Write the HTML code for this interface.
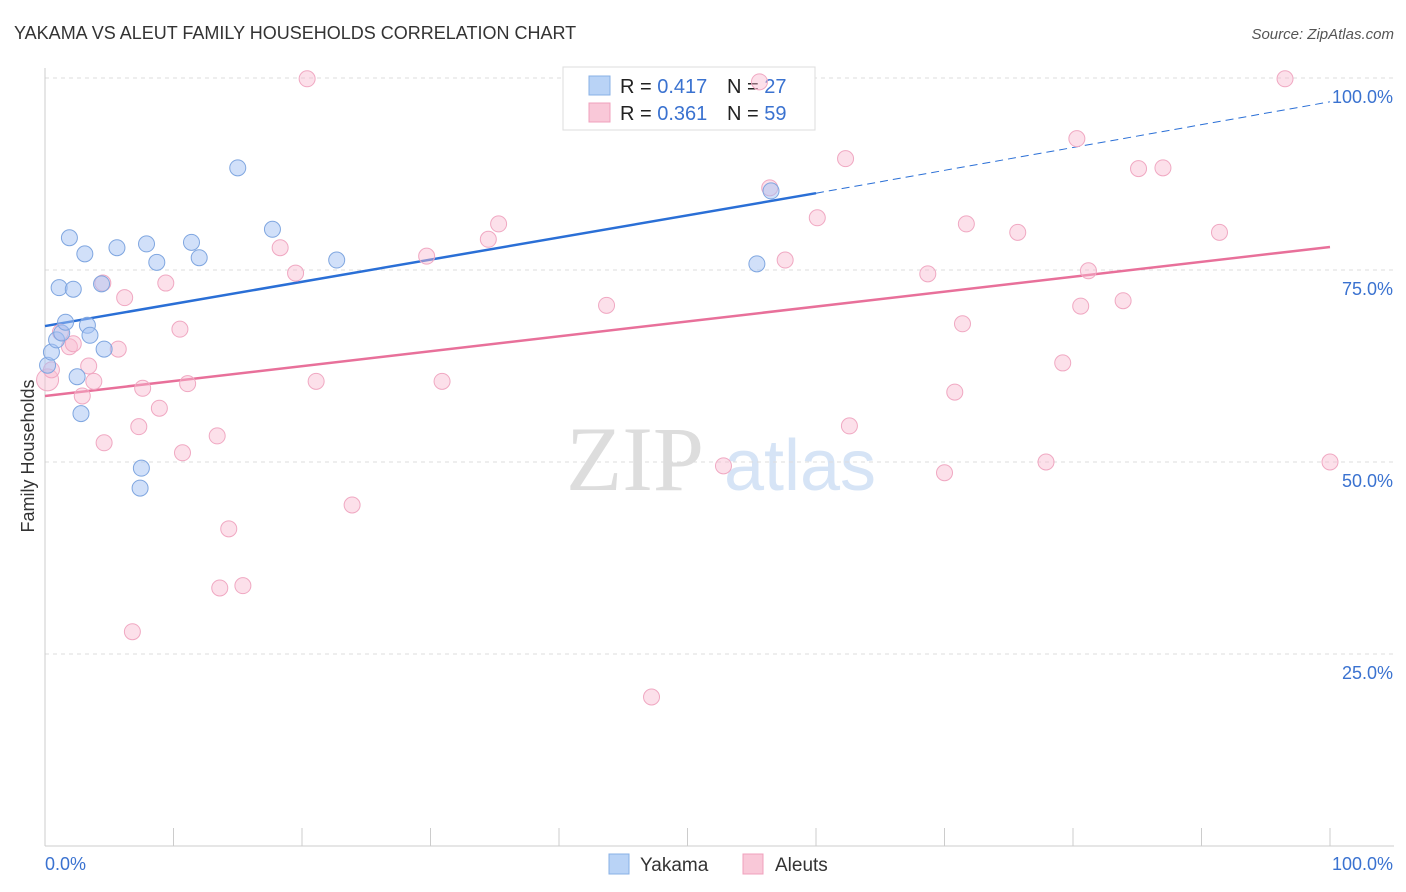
<!DOCTYPE html>
<html><head><meta charset="utf-8"><style>
body{margin:0;background:#fff;font-family:"Liberation Sans",sans-serif;}
svg{display:block}
</style></head><body>
<svg id="chart" width="1406" height="892" xmlns="http://www.w3.org/2000/svg">
<text x="14" y="39" font-size="18" fill="#333">YAKAMA VS ALEUT FAMILY HOUSEHOLDS CORRELATION CHART</text>
<text x="1394" y="39" font-size="15" fill="#555" font-style="italic" text-anchor="end">Source: ZipAtlas.com</text>
<text x="34" y="456" font-size="18" fill="#333" text-anchor="middle" transform="rotate(-90 34 456)">Family Households</text>
<g>
<text x="635" y="490" font-size="92" fill="#ddd" font-family="Liberation Serif,serif" text-anchor="middle">ZIP</text>
<text x="800" y="490" font-size="72" fill="#d6e4f6" text-anchor="middle">atlas</text>
</g>
<g id="grid"></g><g id="axes"></g>
<g>
<rect x="563" y="67" width="252" height="63" fill="#fff" stroke="#ddd"/>
<rect x="589" y="76" width="21" height="19" fill="#b9d3f6" stroke="#88b0e6"/>
<rect x="589" y="103" width="21" height="19" fill="#f9c8d8" stroke="#f0a0bc"/>
<text x="620" y="93" font-size="20" fill="#222">R = <tspan fill="#3a72d0">0.417</tspan>  <tspan x="727">N = </tspan><tspan fill="#3a72d0">27</tspan></text>
<text x="620" y="120" font-size="20" fill="#222">R = <tspan fill="#3a72d0">0.361</tspan>  <tspan x="727">N = </tspan><tspan fill="#3a72d0">59</tspan></text>
</g>
<g id="lines"></g><g id="points"></g>
<g>
<rect x="609" y="854" width="20" height="20" fill="#b9d3f6" stroke="#88b0e6"/>
<text x="640" y="871" font-size="19" fill="#333">Yakama</text>
<rect x="743" y="854" width="20" height="20" fill="#f9c8d8" stroke="#f0a0bc"/>
<text x="775" y="871" font-size="19" fill="#333">Aleuts</text>
</g>
</svg>
<script>
const yTicks=[25,50,75,100];
const yTickLabels=["25.0%","50.0%","75.0%","100.0%"];
const blueX=[0.2,0.5,0.9,1.1,1.3,1.6,1.9,2.2,2.5,2.8,3.1,3.3,3.5,4.4,4.6,5.6,7.5,7.4,7.9,8.7,11.4,12.0,15.0,17.7,22.7,55.4,56.5];
const blueY=[62.6,64.3,65.9,72.7,66.8,68.2,79.2,72.5,61.1,56.3,77.1,67.8,66.5,73.2,64.7,77.9,49.2,46.6,78.4,76.0,78.6,76.6,88.3,80.3,76.3,75.8,85.3];
const pinkX=[0.2,0.5,1.2,1.9,2.2,2.9,3.4,3.8,4.6,4.5,5.7,6.2,6.8,7.3,7.6,8.9,9.4,10.5,10.7,11.1,13.4,13.6,14.3,15.4,18.3,19.5,20.4,21.1,23.9,29.7,30.9,34.5,35.3,43.7,47.2,52.8,55.6,56.4,57.6,60.1,62.3,62.6,68.7,70.0,70.8,71.4,71.7,75.7,77.9,79.2,80.3,80.6,81.2,83.9,85.1,87.0,91.4,96.5,100];
const pinkY=[60.7,62.0,66.9,65.0,65.4,58.6,62.5,60.5,52.5,73.3,64.7,71.4,27.9,54.6,59.6,57.0,73.3,67.3,51.2,60.2,53.4,33.6,41.3,33.9,77.9,74.6,99.9,60.5,44.4,76.8,60.5,79.0,81.0,70.4,19.4,49.5,99.5,85.7,76.3,81.8,89.5,54.7,74.5,48.6,59.1,68.0,81.0,79.9,50.0,62.9,92.1,70.3,74.9,71.0,88.2,88.3,79.9,99.9,50.0];
const blueTrend=[67.7,85.0,96.9]; // at x=0, x=60, x=100
const pinkTrend=[58.6,78.0];     // at x=0, x=100
const NS="http://www.w3.org/2000/svg";
const sx=v=>45+v*12.85, sy=v=>846-v*7.68;
function mk(tag,attrs,parent){const e=document.createElementNS(NS,tag);for(const k in attrs)e.setAttribute(k,attrs[k]);document.getElementById(parent).appendChild(e);return e;}
yTicks.forEach((t,i)=>{
 const g=mk('line',{x1:45,x2:1394,y1:sy(t),y2:sy(t),stroke:'#ddd','stroke-dasharray':'4,4'},'grid');
 
 
 const l=mk('text',{x:1393,y:sy(t)+25,'font-size':18,fill:'#3a72d0','text-anchor':'end'},'grid');
 l.textContent=yTickLabels[i];
 
 
});
mk('line',{x1:45,x2:45,y1:68,y2:846,stroke:'#ccc'},'axes');
mk('line',{x1:45,x2:1394,y1:846,y2:846,stroke:'#ccc'},'axes');
for(let i=1;i<=10;i++){mk('line',{x1:sx(i*10),x2:sx(i*10),y1:828,y2:846,stroke:'#ccc'},'axes');}
const xl0=mk('text',{x:45,y:870,'font-size':18,fill:'#3a72d0'},'axes');xl0.textContent='0.0%';


const xl1=mk('text',{x:1393,y:870,'font-size':18,fill:'#3a72d0','text-anchor':'end'},'axes');xl1.textContent='100.0%';


pinkX.forEach((x,i)=>{const c=mk('circle',{cx:sx(x),cy:sy(pinkY[i]),r:i==0?11:8,fill:'rgba(248,187,208,0.45)',stroke:'#f0a8c2','stroke-width':1},'points');
 
 });
blueX.forEach((x,i)=>{const c=mk('circle',{cx:sx(x),cy:sy(blueY[i]),r:8,fill:'rgba(164,194,244,0.5)',stroke:'#7fa6e0','stroke-width':1},'points');
 
 });
const b1=mk('line',{x1:sx(0),y1:sy(blueTrend[0]),x2:sx(60),y2:sy(blueTrend[1]),stroke:'#2a6fd6','stroke-width':2.5},'lines');


const b2=mk('line',{x1:sx(60),y1:sy(blueTrend[1]),x2:sx(100),y2:sy(blueTrend[2]),stroke:'#2a6fd6','stroke-width':1,'stroke-dasharray':'8,5'},'lines');


const p1=mk('line',{x1:sx(0),y1:sy(pinkTrend[0]),x2:sx(100),y2:sy(pinkTrend[1]),stroke:'#e8709a','stroke-width':2.5},'lines');


</script>
</body></html>
